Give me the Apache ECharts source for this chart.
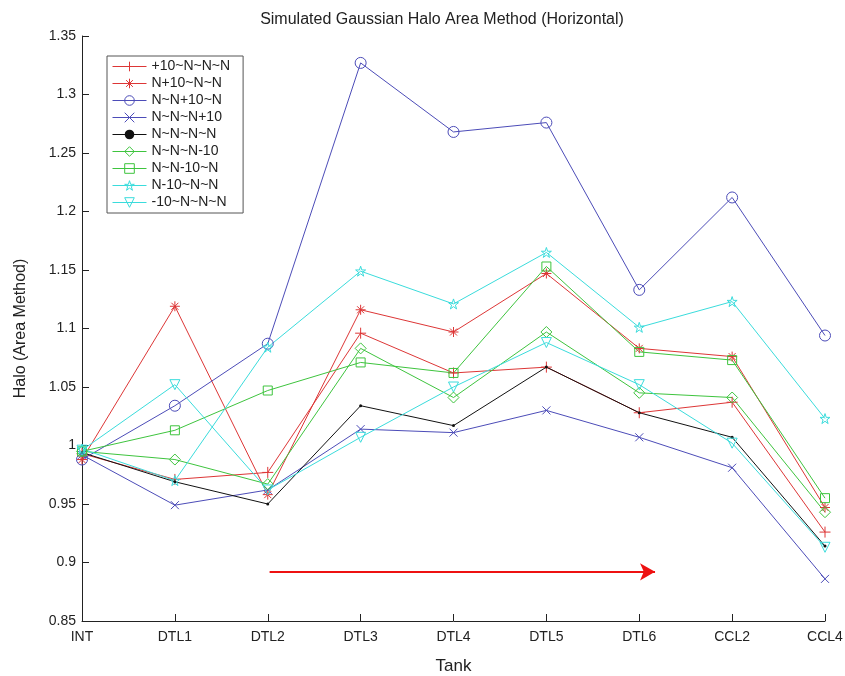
<!DOCTYPE html>
<html lang="en">
<head>
  <meta charset="UTF-8">
  <title>Simulated Gaussian Halo Area Method (Horizontal)</title>
  <style>
    body { margin: 0; background: #fff; }
    #chart { width: 845px; height: 676px; }
  </style>
  <script src="https://cdn.jsdelivr.net/npm/echarts@6/dist/echarts.min.js"></script>
</head>
<body>
  <div id="chart"></div>
  <script>
    // tanks along the beam line
    var tanks = ['INT', 'DTL1', 'DTL2', 'DTL3', 'DTL4', 'DTL5', 'DTL6', 'CCL2', 'CCL4'];

    // halo values per case
    var plus10NNN   = [0.993, 0.971, 0.977, 1.096, 1.062, 1.067, 1.028, 1.037, 0.926];
    var nPlus10NN   = [0.988, 1.119, 0.958, 1.116, 1.097, 1.147, 1.083, 1.076, 0.947];
    var nnPlus10N   = [0.988, 1.034, 1.087, 1.327, 1.268, 1.276, 1.133, 1.212, 1.094];
    var nnnPlus10   = [0.992, 0.949, 0.962, 1.014, 1.011, 1.030, 1.007, 0.981, 0.886];
    var nnnn        = [0.994, 0.969, 0.950, 1.034, 1.017, 1.067, 1.028, 1.007, 0.914];
    var nnnMinus10  = [0.995, 0.988, 0.967, 1.083, 1.041, 1.097, 1.045, 1.041, 0.943];
    var nnMinus10N  = [0.995, 1.013, 1.047, 1.071, 1.062, 1.153, 1.080, 1.073, 0.955];
    var nMinus10NN  = [0.997, 0.970, 1.084, 1.149, 1.121, 1.165, 1.101, 1.123, 1.023];
    var minus10NNN  = [0.996, 1.052, 0.962, 1.007, 1.050, 1.088, 1.052, 1.002, 0.913];

    // red arrow annotation (in axis units)
    var arrowFrom = 2.02, arrowTo = 6.17, arrowLevel = 0.892;

    var RED = '#dd3636', BLUE = '#4c4cb8', BLACK = '#111', GREEN = '#3ec43e', CYAN = '#3adcdc';

    var PLUS = 'path://M0,5L10,5M5,0L5,10';
    var STAR6 = 'path://M0,5L10,5M5,0L5,10M1.5,1.5L8.5,8.5M8.5,1.5L1.5,8.5';
    var CROSS = 'path://M0,0L10,10M10,0L0,10';
    var PENTA = 'path://M5,0L6.2,3.6L10,3.6L6.9,5.9L8.1,9.5L5,7.3L1.9,9.5L3.1,5.9L0,3.6L3.8,3.6Z';
    var TRIDOWN = 'path://M0,0L10,0L5,8.7Z';

    function pts(arr) {
      return arr.map(function (v, i) { return [i, v]; });
    }

    function markStyle(color, filled) {
      return filled ? { color: color } : { color: 'none', borderColor: color, borderWidth: 1 };
    }

    function mk(name, arr, color, symbol, size, filled) {
      return {
        name: name,
        type: 'line',
        data: pts(arr),
        symbol: symbol,
        symbolSize: size,
        lineStyle: { color: color, width: 1 },
        itemStyle: markStyle(color, filled),
        emphasis: { disabled: true },
        _filled: !!filled,
        _color: color,
        z: 3
      };
    }

    var series = [
      mk('+10~N~N~N', plus10NNN, RED, PLUS, 11),
      mk('N+10~N~N', nPlus10NN, RED, STAR6, 10),
      mk('N~N+10~N', nnPlus10N, BLUE, 'circle', 11),
      mk('N~N~N+10', nnnPlus10, BLUE, CROSS, 8),
      mk('N~N~N~N', nnnn, BLACK, 'circle', 3, true),
      mk('N~N~N-10', nnnMinus10, GREEN, 'diamond', 11),
      mk('N~N-10~N', nnMinus10N, GREEN, 'rect', 9),
      mk('N-10~N~N', nMinus10NN, CYAN, PENTA, 10),
      mk('-10~N~N~N', minus10NNN, CYAN, TRIDOWN, 10)
    ];

    var legendData = series.map(function (s) {
      return {
        name: s.name,
        itemStyle: markStyle(s._color, s._filled),
        lineStyle: { color: s._color, width: 1 }
      };
    });

    series[0].markLine = {
      silent: true,
      symbol: ['none', 'arrow'],
      symbolSize: [13, 15],
      label: { show: false },
      lineStyle: { color: '#ee1111', width: 2, type: 'solid' },
      data: [[{ coord: [arrowFrom, arrowLevel] }, { coord: [arrowTo, arrowLevel] }]]
    };

    var chart = echarts.init(document.getElementById('chart'));
    chart.setOption({
      backgroundColor: '#fff',
      animation: false,
      textStyle: { fontFamily: 'Liberation Sans, Arial, sans-serif' },
      title: {
        text: 'Simulated Gaussian Halo Area Method (Horizontal)',
        left: 437,
        textAlign: 'center',
        top: 7,
        textStyle: { fontSize: 16, fontWeight: 'normal', color: '#222' }
      },
      legend: {
        orient: 'vertical',
        left: 107,
        top: 56,
        padding: [3, 13, 3, 5],
        borderColor: '#555',
        borderWidth: 1,
        backgroundColor: '#fff',
        itemWidth: 34,
        itemHeight: 12,
        itemGap: 2,
        lineStyle: { width: 1 },
        textStyle: { fontSize: 14, lineHeight: 15, color: '#222' },
        data: legendData
      },
      grid: { left: 82, right: 20, top: 36, bottom: 55, outerBoundsMode: 'none', containLabel: false },
      xAxis: {
        type: 'value',
        min: 0,
        max: tanks.length - 1,
        interval: 1,
        name: 'Tank',
        nameLocation: 'middle',
        nameGap: 37,
        nameTextStyle: { fontSize: 17, color: '#222' },
        axisLine: { lineStyle: { color: '#222' } },
        axisTick: { inside: true, length: 7, lineStyle: { color: '#222' } },
        axisLabel: {
          fontSize: 14, color: '#222', margin: 9,
          formatter: function (v) { return tanks[v] || ''; }
        },
        splitLine: { show: false }
      },
      yAxis: {
        type: 'value',
        min: 0.85,
        max: 1.35,
        interval: 0.05,
        name: 'Halo (Area Method)',
        nameLocation: 'middle',
        nameGap: 53,
        nameTextStyle: { fontSize: 16, color: '#222' },
        axisLine: { show: true, lineStyle: { color: '#222' } },
        axisTick: { show: true, inside: true, length: 7, lineStyle: { color: '#222' } },
        axisLabel: { fontSize: 14, color: '#222', margin: 6 },
        splitLine: { show: false }
      },
      series: series
    });
  </script>
</body>
</html>
